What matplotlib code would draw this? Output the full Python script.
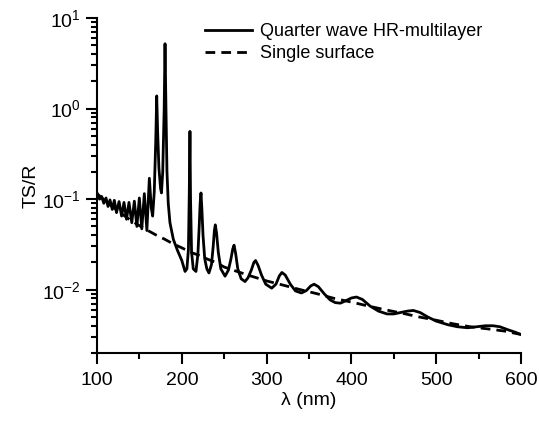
import matplotlib
matplotlib.use("Agg")
import matplotlib.pyplot as plt
from matplotlib.ticker import LogLocator, MultipleLocator, NullFormatter

plt.rcParams['font.family'] = ['Liberation Sans', 'DejaVu Sans']
plt.rcParams['mathtext.default'] = 'regular'

# Quarter wave HR-multilayer (wavelength nm, TS/R)
hr_wl = [100, 103, 105.5, 108, 110.6, 113, 115.3, 118, 120.4, 123, 126, 129, 131.8, 134.8,
         137.7, 141, 144, 147, 149.9, 152.8, 155.8, 158.8, 161.7, 164, 165.6, 167.5, 169.3,
         170.4, 171.5, 173, 175, 176, 177.5, 179.2, 180.2, 181.3, 182.5, 184, 186, 190, 195,
         200, 203.8, 206, 207.8, 208.8, 209.6, 210.3, 211.5, 213.5, 216.7, 219, 220.5, 221.6,
         222.6, 223.6, 225, 227, 229.5, 232, 235, 237, 238.4, 239.5, 241, 243, 246, 251, 255,
         258, 260, 261.6, 263.5, 266, 270, 274.5, 278, 282, 285, 287, 290, 294, 299, 306, 311,
         315, 318, 322, 328, 334, 341, 347, 352, 356, 361, 368, 375, 381, 387, 394, 400, 406,
         413, 422, 432, 442, 450, 458, 466, 473, 481, 490, 500, 514, 525, 537, 548, 558, 567,
         575, 585, 593, 600]
hr_ts = [0.117, 0.100, 0.107, 0.090, 0.103, 0.083, 0.098, 0.077, 0.097, 0.071, 0.094, 0.065,
         0.092, 0.060, 0.092, 0.055, 0.095, 0.050, 0.103, 0.047, 0.115, 0.045, 0.170, 0.080,
         0.065, 0.120, 0.45, 1.38, 0.55, 0.22, 0.13, 0.117, 0.20, 1.0, 5.2, 1.0, 0.20, 0.09,
         0.055, 0.036, 0.027, 0.021, 0.0159, 0.017, 0.028, 0.12, 0.56, 0.10, 0.026, 0.017,
         0.0159, 0.025, 0.050, 0.090, 0.117, 0.080, 0.040, 0.022, 0.017, 0.0153, 0.019, 0.030,
         0.045, 0.052, 0.042, 0.026, 0.017, 0.0141, 0.0165, 0.022, 0.028, 0.031, 0.025, 0.017,
         0.0132, 0.0123, 0.0135, 0.0165, 0.0200, 0.0210, 0.0185, 0.0145, 0.0115, 0.0104, 0.0115,
         0.0142, 0.0155, 0.0145, 0.0115, 0.0097, 0.0092, 0.0098, 0.0110, 0.0115, 0.0108, 0.0090,
         0.0077, 0.0072, 0.0071, 0.0076, 0.0081, 0.0083, 0.0078, 0.0066, 0.0058, 0.0054, 0.0054,
         0.0056, 0.0058, 0.0059, 0.0056, 0.0050, 0.0045, 0.0041, 0.0039, 0.0038, 0.0039, 0.0040,
         0.0040, 0.0039, 0.0036, 0.0034, 0.0032]

# Single surface
ss_wl = [100, 110, 120, 130, 140, 150, 160, 170, 180, 190, 200, 210, 220, 230, 240, 250, 260,
         280, 300, 320, 340, 360, 380, 400, 420, 440, 460, 480, 500, 520, 540, 560, 580, 600]
ss_ts = [0.115, 0.095, 0.080, 0.068, 0.058, 0.051, 0.045, 0.040, 0.036, 0.032, 0.029, 0.026,
         0.024, 0.0218, 0.020, 0.0178, 0.0165, 0.0143, 0.0125, 0.0112, 0.0100, 0.0090, 0.0080,
         0.0073, 0.0066, 0.0060, 0.0055, 0.0050, 0.0046, 0.0042, 0.0039, 0.0037, 0.0035, 0.0032]

labels = ["Quarter wave HR-multilayer", "Single surface"]

fig = plt.figure(figsize=(5.39, 4.25), dpi=100)
ax = fig.add_axes([0.18, 0.1694, 0.7866, 0.7882])

ax.plot(hr_wl, hr_ts, color='black', lw=2.0, solid_joinstyle='round', label=labels[0])
ax.plot(ss_wl, ss_ts, color='black', lw=2.0, ls=(0, (3.5, 2.2)), label=labels[1])

ax.set_yscale('log')
ax.set_xlim(100, 600)
ax.set_ylim(2e-3, 10)
ax.xaxis.set_major_locator(MultipleLocator(100))
ax.xaxis.set_minor_locator(MultipleLocator(50))
ax.yaxis.set_major_locator(LogLocator(base=10, numticks=10))
ax.yaxis.set_minor_locator(LogLocator(base=10, subs=range(2, 10), numticks=20))
ax.yaxis.set_minor_formatter(NullFormatter())

for s in ['top', 'right']:
    ax.spines[s].set_visible(False)
for s in ['left', 'bottom']:
    ax.spines[s].set_linewidth(1.5)

ax.tick_params(which='major', direction='out', length=8, width=1.5, labelsize=14)
ax.tick_params(which='minor', direction='out', length=4.5, width=1.5)
ax.tick_params(axis='x', pad=6)

ax.set_xlabel("λ (nm)", fontsize=14, labelpad=2)
ax.set_ylabel("TS/R", fontsize=14, labelpad=2)

leg = ax.legend(loc='upper left', frameon=False, fontsize=13, handlelength=2.6,
                handletextpad=0.45, labelspacing=0.3, borderaxespad=0, borderpad=0,
                bbox_to_anchor=(0.255, 0.985))

fig.savefig("out.png", dpi=100)
